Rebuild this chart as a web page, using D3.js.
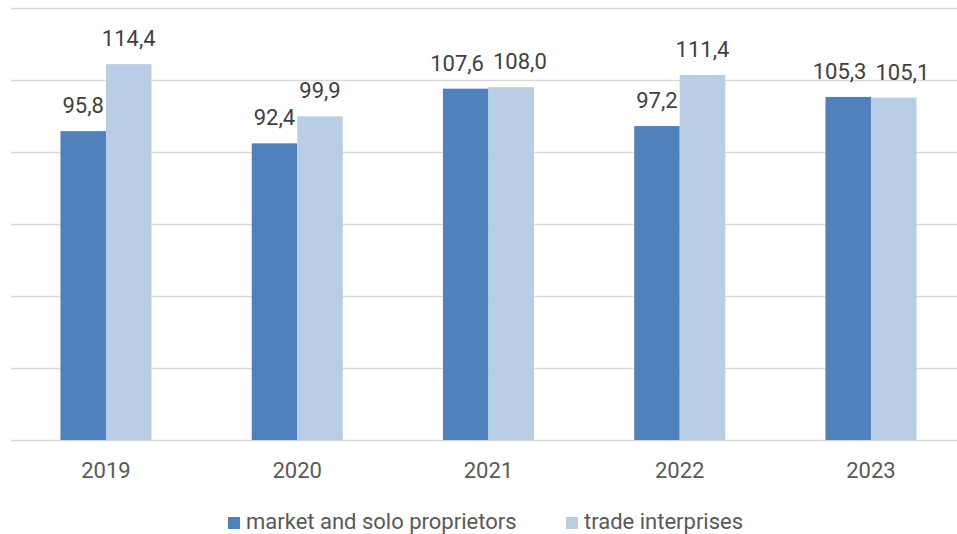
<title>Bars</title>
<body style="margin:0"></body>
<style>
  text { font-family: Roboto, sans-serif; }
  .grid line { stroke: #d9d9d9; stroke-width: 1.5; }
  .grid path { display: none; }
</style>
<script src="https://d3js.org/d3.v7.min.js"></script>
<script>
years = ['2019', '2020', '2021', '2022', '2023']
market = [95.8, 92.4, 107.6, 97.2, 105.3]
trade = [114.4, 99.9, 108.0, 111.4, 105.1]
seriesNames = ['market and solo proprietors', 'trade interprises']
colors = ['#4f81bd', '#b9cde5']
yTicks = [10, 30, 50, 70, 90, 110, 130]

W = 957, H = 534

svg = d3.select('body').append('svg')
    .attr('width', W)
    .attr('height', H)

x0 = d3.scaleBand().domain(years).range([10.35, 966.6])
    .paddingInner(0.524).paddingOuter(0.262)
x1 = d3.scaleBand().domain([0, 1]).range([0, x0.bandwidth()])
y = d3.scaleLinear().domain([10, 130]).range([440, 8])

// gridlines
svg.append('g').attr('class', 'grid')
    .attr('transform', 'translate(11,0)')
    .call(d3.axisLeft(y).tickValues(yTicks).tickSize(-(W - 11)).tickFormat(''))

rows = years.map((yr, i) => ({year: yr, vals: [market[i], trade[i]]}))
fmt = v => v.toFixed(1).replace('.', ',')

g = svg.selectAll('.yr').data(rows).enter().append('g')
    .attr('transform', d => `translate(${x0(d.year)},0)`)

g.selectAll('rect').data(d => d.vals).enter().append('rect')
    .attr('x', (v, j) => x1(j))
    .attr('width', x1.bandwidth())
    .attr('y', v => y(v))
    .attr('height', v => y(10) - y(v))
    .attr('fill', (v, j) => colors[j])

g.each(function() {
  const lbls = d3.select(this).selectAll('.lbl').data(d => d.vals).enter().append('text')
      .attr('class', 'lbl')
      .attr('x', (v, j) => x1(j) + x1.bandwidth() / 2)
      .attr('y', v => y(v) - 18)
      .attr('text-anchor', 'middle')
      .attr('font-size', 22)
      .attr('fill', '#404040')
      .text(fmt)
  // push the pair apart when they collide (like the labels were moved by hand)
  const n = lbls.nodes(), a = n[0].getBBox(), b = n[1].getBBox()
  const vOverlap = a.y < b.y + b.height && b.y < a.y + a.height
  const gap = b.x - (a.x + a.width)
  if (vOverlap && gap < 9) {
    const s = (9 - gap) / 2
    d3.select(n[0]).attr('x', +d3.select(n[0]).attr('x') - s)
    d3.select(n[1]).attr('x', +d3.select(n[1]).attr('x') + s)
  }
})

// category labels
svg.selectAll('.cat').data(years).enter().append('text')
    .attr('x', d => x0(d) + x0.bandwidth() / 2)
    .attr('y', 478)
    .attr('text-anchor', 'middle')
    .attr('font-size', 22)
    .attr('fill', '#595959')
    .text(d => d)

// legend
legendX = [228, 566]
lg = svg.selectAll('.leg').data(seriesNames).enter().append('g')
    .attr('transform', (d, i) => `translate(${legendX[i]},0)`)
lg.append('rect').attr('x', 0).attr('y', 517).attr('width', 12).attr('height', 12)
    .attr('fill', (d, i) => colors[i])
lg.append('text').attr('x', 18).attr('y', 529)
    .attr('font-size', 22).attr('fill', '#595959')
    .text(d => d)
</script>
